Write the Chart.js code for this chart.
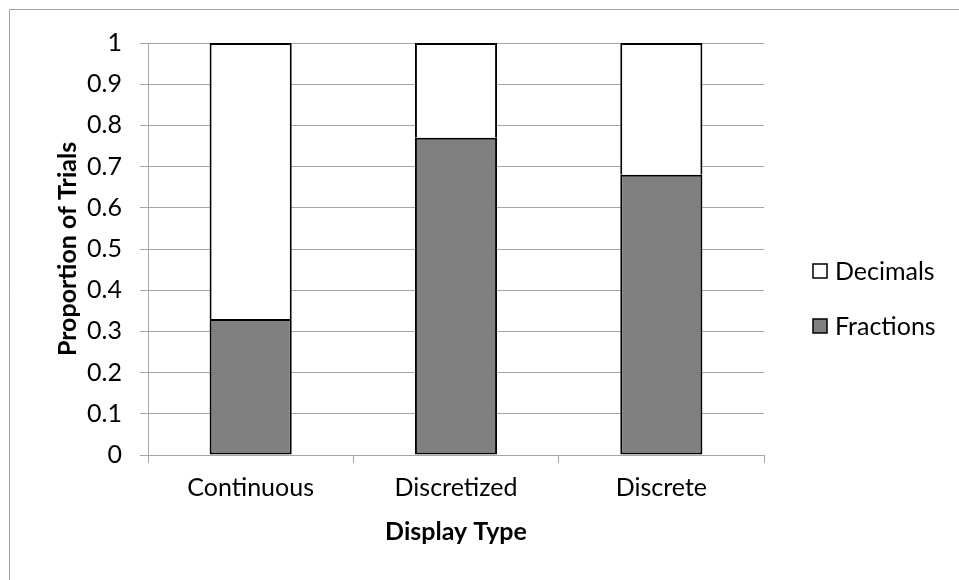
<!DOCTYPE html>
<html><head><meta charset="utf-8">
<script src="https://cdn.jsdelivr.net/npm/chart.js@4/dist/chart.umd.min.js"></script>
<style>html,body{margin:0;padding:0;background:#fff}</style>
</head><body>
<canvas id="c" width="959" height="580"></canvas>
<script>
const categories = ['Continuous', 'Discretized', 'Discrete'];
const fractions = [0.33, 0.77, 0.68];
const decimals = [0.67, 0.23, 0.32];
const seriesNames = ['Fractions', 'Decimals'];
const yTickValues = [0, 0.1, 0.2, 0.3, 0.4, 0.5, 0.6, 0.7, 0.8, 0.9, 1];
const xTitle = 'Display Type';
const yTitle = 'Proportion of Trials';

const FONT = 'Lato, Carlito, Calibri, sans-serif';
const FS = 25;
const GRID = '#a6a6a6';

const frame = {
  id: 'frame',
  beforeDraw(chart) {
    const ctx = chart.ctx;
    ctx.save();
    ctx.fillStyle = '#fff';
    ctx.fillRect(0, 0, chart.width, chart.height);
    ctx.strokeStyle = '#a0a0a0';
    ctx.lineWidth = 1;
    ctx.beginPath();
    ctx.moveTo(9.5, chart.height);
    ctx.lineTo(9.5, 9.5);
    ctx.lineTo(chart.width, 9.5);
    ctx.stroke();
    ctx.restore();
  }
};

const legendRight = {
  id: 'legendRight',
  afterDraw(chart) {
    const ctx = chart.ctx;
    const ds = chart.data.datasets.slice().reverse();
    const x0 = 813, y0 = 271, gap = 55, box = 14;
    ctx.save();
    ctx.font = FS + 'px ' + FONT;
    ctx.textBaseline = 'middle';
    ctx.textAlign = 'left';
    ds.forEach((d, i) => {
      const y = y0 + i * gap;
      ctx.fillStyle = d.backgroundColor;
      ctx.fillRect(x0, y - box / 2, box, box);
      ctx.strokeStyle = '#000';
      ctx.lineWidth = 1.5;
      ctx.strokeRect(x0, y - box / 2, box, box);
      ctx.fillStyle = '#000';
      ctx.fillText(d.label, x0 + 22, y + 1);
    });
    ctx.restore();
  }
};

new Chart(document.getElementById('c'), {
  type: 'bar',
  data: {
    labels: categories,
    datasets: [
      { label: seriesNames[0], data: fractions, backgroundColor: '#808080', borderColor: '#000', borderWidth: 2, borderSkipped: false },
      { label: seriesNames[1], data: decimals, backgroundColor: '#ffffff', borderColor: '#000', borderWidth: 2, borderSkipped: 'start' }
    ]
  },
  options: {
    responsive: false,
    animation: false,
    events: [],
    layout: { padding: { left: 0, top: 43, right: 959 - 764, bottom: 0 } },
    plugins: { legend: { display: false }, tooltip: { enabled: false } },
    datasets: { bar: { categoryPercentage: 0.4, barPercentage: 1 } },
    scales: {
      x: {
        stacked: true,
        offset: true,
        grid: { display: true, offset: true, drawOnChartArea: false, color: GRID, tickLength: 8, lineWidth: 1 },
        border: { display: true, color: GRID, width: 1 },
        ticks: { color: '#000', font: { family: FONT, size: FS }, padding: 10 },
        title: { display: true, text: xTitle, color: '#000', font: { family: FONT, size: FS, weight: 'bold' }, padding: { top: 0, bottom: 33 } },
        afterFit(s) { s.height = 580 - 455; }
      },
      y: {
        stacked: true,
        min: 0, max: 1,
        afterBuildTicks(s) { s.ticks = yTickValues.map(v => ({ value: v })); },
        grid: { color: GRID, tickLength: 8, lineWidth: 1 },
        border: { display: true, color: GRID, width: 1 },
        ticks: { color: '#000', font: { family: FONT, size: FS }, padding: 18, callback: v => String(v) },
        title: { display: true, text: yTitle, color: '#000', font: { family: FONT, size: FS, weight: 'bold' }, padding: { top: 53, bottom: 0 } },
        afterFit(s) { s.width = 148; }
      }
    }
  },
  plugins: [frame, legendRight]
});
</script>
</body></html>
